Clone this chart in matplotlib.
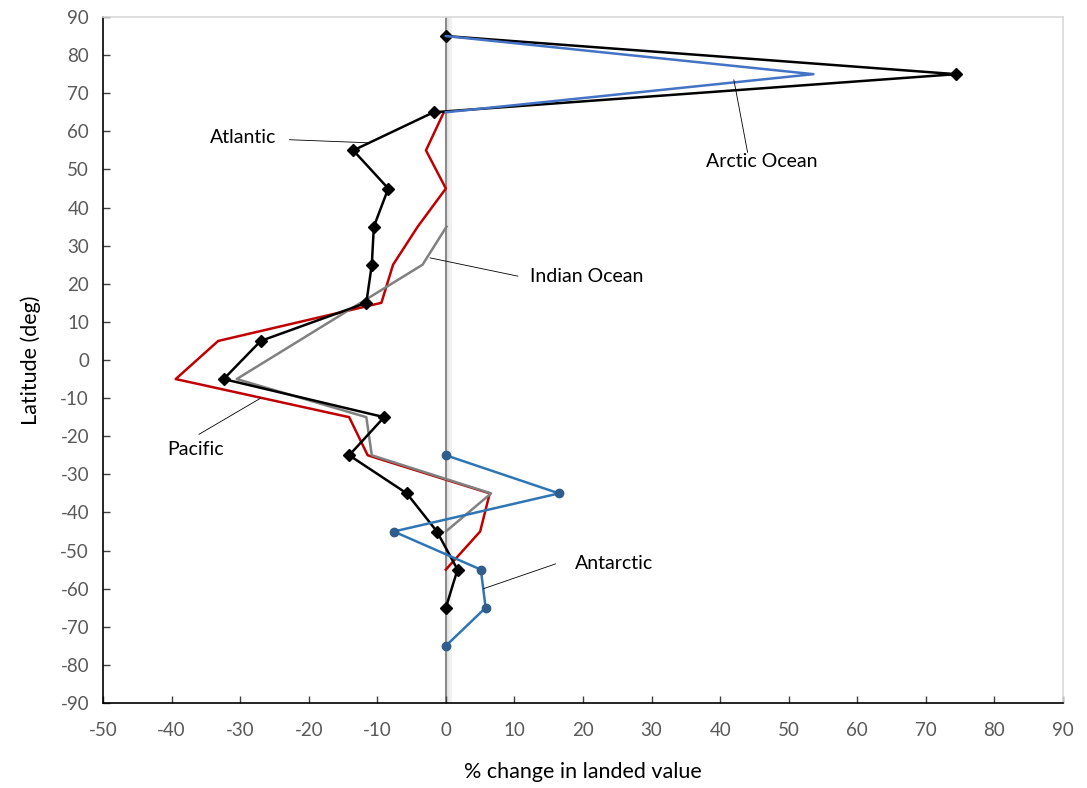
import matplotlib
matplotlib.use("Agg")
import matplotlib.pyplot as plt

plt.rcParams["font.family"] = ["Lato", "DejaVu Sans"]
plt.rcParams["axes.unicode_minus"] = False

# ---------------------------------------------------------------------------
# Data: % change in landed value by latitude band
# ---------------------------------------------------------------------------
atlantic_lat = [85, 75, 65, 55, 45, 35, 25, 15, 5, -5, -15, -25, -35, -45, -55, -65]
atlantic_val = [0, 74.4, -1.8, -13.5, -8.4, -10.5, -10.8, -11.6, -27.0, -32.4,
                -9.0, -14.1, -5.7, -1.3, 1.7, 0]

arctic_lat = [85, 75, 65]
arctic_val = [0, 53.6, 0]

pacific_lat = [65, 55, 45, 35, 25, 15, 5, -5, -15, -25, -35, -45, -55]
pacific_val = [-0.3, -2.9, 0, -4.1, -7.7, -9.4, -33.2, -39.4, -14.1, -11.4, 6.4, 5.0, 0]

indian_lat = [35, 25, -5, -15, -25, -35, -45]
indian_val = [0.1, -3.4, -30.5, -11.6, -10.8, 6.6, 0]

antarctic_lat = [-25, -35, -45, -55, -65, -75]
antarctic_val = [0, 16.5, -7.6, 5.1, 5.8, 0]

x_ticks = list(range(-50, 91, 10))
y_ticks = list(range(-90, 91, 10))

# ---------------------------------------------------------------------------
fig = plt.figure(figsize=(10.87, 7.88), dpi=100)
ax = fig.add_axes([103 / 1087, 1 - 703 / 788, 960 / 1087, 686 / 788])

# zero reference line with a soft shadow
ax.axvspan(0.15, 0.5, color="#e6e6e6", lw=0, zorder=1)
ax.axvspan(0.5, 0.95, color="#f0f0f0", lw=0, zorder=1)
ax.axvline(0, color="#8c8c8c", lw=1.5, zorder=1.5)

ax.plot(pacific_val, pacific_lat, color="#c00000", lw=1.8, zorder=2)
ax.plot(indian_val, indian_lat, color="#808080", lw=1.8, zorder=3)
ax.plot(atlantic_val, atlantic_lat, color="black", lw=1.8, marker="D",
        ms=6, mfc="black", mec="black", zorder=4)
ax.plot(arctic_val, arctic_lat, color="#4472c4", lw=1.8, zorder=5)
ax.plot(antarctic_val, antarctic_lat, color="#2e75b6", lw=1.8, marker="o",
        ms=6, mfc="#2f5d8c", mec="#2f5d8c", zorder=6)

ax.set_xlim(-50, 90)
ax.set_ylim(-90, 90)
ax.set_xticks(x_ticks)
ax.set_yticks(y_ticks)
ax.tick_params(direction="in", length=5, width=1, labelsize=13.5,
               labelcolor="#595959", color="#404040", pad=10)
ax.tick_params(axis="x", pad=14)

for side in ("top", "right"):
    ax.spines[side].set_color("#d9d9d9")
    ax.spines[side].set_linewidth(1.2)
for side in ("left", "bottom"):
    ax.spines[side].set_color("black")
    ax.spines[side].set_linewidth(1.2)

ax.set_xlabel("% change in landed value", fontsize=15.5, labelpad=16)
ax.set_ylabel("Latitude (deg)", fontsize=15.5, labelpad=14)

# ── Series call-outs ───────────────────────────────────────────────────────
callouts = [
    ("Atlantic", (-29.5, 58.5), (-22.8, 57.8), (-11.4, 57.0)),
    ("Arctic Ocean", (46.0, 52.0), (44.0, 54.5), (42.0, 73.5)),
    ("Indian Ocean", (20.5, 21.8), (10.5, 22.0), (-2.3, 26.8)),
    ("Pacific", (-36.5, -23.5), (-36.0, -19.5), (-27.0, -10.0)),
    ("Antarctic", (24.5, -53.5), (16.0, -53.5), (5.5, -60.0)),
]
for label, text_xy, line_start, line_end in callouts:
    ax.text(*text_xy, label, fontsize=14, ha="center", va="center", zorder=7)
    ax.plot([line_start[0], line_end[0]], [line_start[1], line_end[1]],
            color="black", lw=0.6, zorder=7)

fig.savefig("out.png", dpi=100)
